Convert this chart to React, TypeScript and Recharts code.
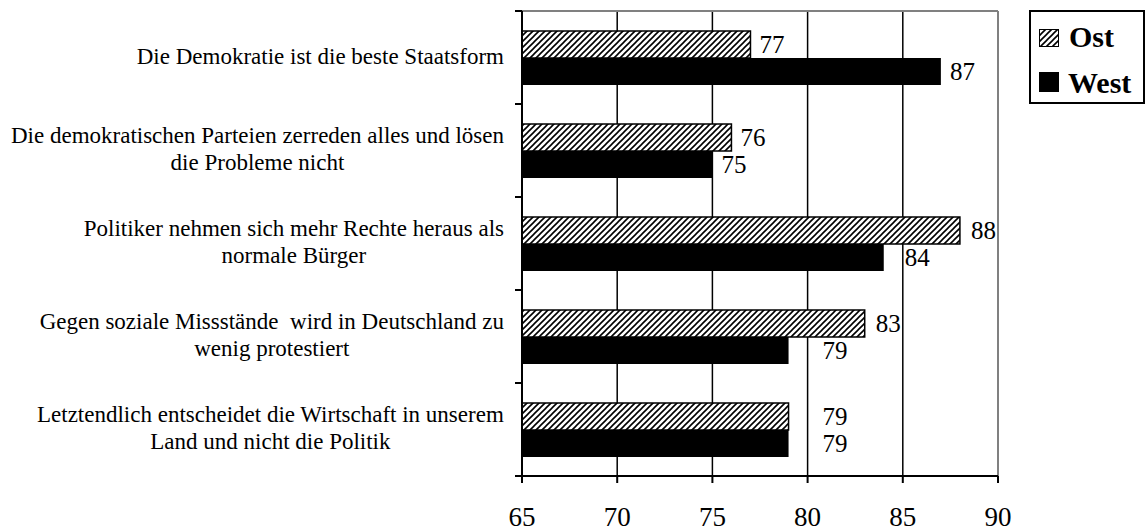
import { BarChart, Bar, XAxis, YAxis, CartesianGrid, Legend, LabelList, ReferenceLine } from 'recharts';

const categories = [
  'Die Demokratie ist die beste Staatsform',
  'Die demokratischen Parteien zerreden alles und lösen\ndie Probleme nicht',
  'Politiker nehmen sich mehr Rechte heraus als\nnormale Bürger',
  'Gegen soziale Missstände  wird in Deutschland zu\nwenig protestiert',
  'Letztendlich entscheidet die Wirtschaft in unserem\nLand und nicht die Politik',
];
const ostValues = [77, 76, 88, 83, 79];
const westValues = [87, 75, 84, 79, 79];
const xTicks = [65, 70, 75, 80, 85, 90];

// manual nudges of the value labels (px), as in the original
const ostLabelShift = [0, 0, 2, 2, 25];
const westLabelShift = [0, 0, 12, 25, 25];

const data = categories.map((label, i) => ({ label, ost: ostValues[i], west: westValues[i] }));

const W = 1145;
const H = 531;
const LEGEND_W = 116;
// the legend takes its width off the right side of the plot
const MARGIN = { top: 11, right: 148 - LEGEND_W - 1, left: 0, bottom: 0 };
const Y_AXIS_W = 522;
const X_AXIS_H = 55;
const BAND = (H - MARGIN.top - MARGIN.bottom - X_AXIS_H) / categories.length;
const FONT = '"Liberation Serif", "Times New Roman", serif';

let ctx: CanvasRenderingContext2D | null = null;
function measure(text: string, size: number) {
  if (!ctx) ctx = document.createElement('canvas').getContext('2d');
  if (!ctx) return text.length * size * 0.45;
  ctx.font = `${size}px "Liberation Serif"`;
  return ctx.measureText(text).width;
}

function CategoryTick(props: any) {
  const { x, y, payload, index } = props;
  const lines: string[] = String(payload.value).split('\n');
  const block = Math.max(...lines.map((l) => measure(l, 23)));
  const cx = x - block / 2;
  const axisX = x + 18;
  return (
    <g>
      {lines.map((l, i) => (
        <text
          key={i}
          x={cx}
          y={y + (i - (lines.length - 1) / 2) * 27 + 6}
          textAnchor="middle"
          fontSize={23}
          fontFamily={FONT}
          fill="#000"
          style={{ whiteSpace: 'pre' }}
        >
          {l}
        </text>
      ))}
      {index === 0 && (
        <line x1={axisX - 7} x2={axisX} y1={y - BAND / 2} y2={y - BAND / 2} stroke="#000" strokeWidth={2} />
      )}
      <line x1={axisX - 7} x2={axisX} y1={y + BAND / 2} y2={y + BAND / 2} stroke="#000" strokeWidth={2} />
    </g>
  );
}

const valueLabel = (shift: number[]) => (props: any) => {
  const { x, y, width, height, value, index } = props;
  return (
    <text
      x={x + width + 9 + (shift[index] ?? 0)}
      y={y + height / 2}
      dominantBaseline="central"
      fontSize={25}
      fontFamily={FONT}
      fill="#000"
    >
      {value}
    </text>
  );
};

function LegendBox() {
  return (
    <svg width={LEGEND_W} height={95} style={{ display: 'block' }}>
      <defs>
        <pattern id="hatchLegend" width={6} height={6} patternUnits="userSpaceOnUse">
          <rect width={6} height={6} fill="#fff" />
          <path d="M0,6 L6,0 M-1,1 L1,-1 M5,7 L7,5" stroke="#000" strokeWidth={1.6} />
        </pattern>
      </defs>
      <rect x={1} y={1} width={114} height={92} fill="#fff" stroke="#000" strokeWidth={2} />
      <rect x={10.5} y={19.5} width={19} height={17} fill="url(#hatchLegend)" stroke="#000" strokeWidth={1} />
      <text x={40} y={37} fontSize={30} fontWeight="bold" fill="#000" fontFamily={FONT}>
        Ost
      </text>
      <rect x={10} y={62} width={20} height={20} fill="#000" />
      <text x={39} y={83} fontSize={30} fontWeight="bold" fill="#000" fontFamily={FONT}>
        West
      </text>
    </svg>
  );
}

export default function App() {
  return (
    <div style={{ position: 'absolute', left: 0, top: 0, width: W, height: H, background: '#fff', fontFamily: FONT }}>
      <BarChart
        width={W}
        height={H}
        data={data}
        layout="vertical"
        margin={MARGIN}
        barGap={0}
        barSize={27}
      >
        <defs>
          <pattern id="hatch" width={6} height={6} patternUnits="userSpaceOnUse">
            <rect width={6} height={6} fill="#fff" />
            <path d="M0,6 L6,0 M-1,1 L1,-1 M5,7 L7,5" stroke="#000" strokeWidth={1.6} />
          </pattern>
        </defs>
        <CartesianGrid horizontal={false} stroke="#000" strokeWidth={1.5} />
        <CartesianGrid
          vertical={false}
          stroke="#808080"
          strokeWidth={2}
          horizontalCoordinatesGenerator={({ offset }: any) => [offset.top]}
        />
        <ReferenceLine x={90} stroke="#808080" strokeWidth={2} />
        <XAxis
          type="number"
          domain={[65, 90]}
          ticks={xTicks}
          interval={0}
          height={X_AXIS_H}
          tickSize={7}
          tickMargin={24}
          axisLine={{ stroke: '#000', strokeWidth: 2 }}
          tickLine={{ stroke: '#000', strokeWidth: 2 }}
          tick={{ fontSize: 27, fill: '#000', fontFamily: FONT }}
        />
        <YAxis
          type="category"
          dataKey="label"
          width={Y_AXIS_W}
          interval={0}
          tickSize={7}
          tickMargin={11}
          tickLine={false}
          axisLine={{ stroke: '#000', strokeWidth: 2 }}
          tick={<CategoryTick />}
        />
        <Legend
          layout="vertical"
          verticalAlign="top"
          align="right"
          width={LEGEND_W}
          wrapperStyle={{ position: 'absolute', top: 10, left: 1029, right: 'auto', width: LEGEND_W, height: 95 }}
          content={() => <LegendBox />}
        />
        <Bar dataKey="ost" name="Ost" fill="url(#hatch)" stroke="#000" strokeWidth={1.5} isAnimationActive={false}>
          <LabelList dataKey="ost" content={valueLabel(ostLabelShift)} />
        </Bar>
        <Bar dataKey="west" name="West" fill="#000" isAnimationActive={false}>
          <LabelList dataKey="west" content={valueLabel(westLabelShift)} />
        </Bar>
      </BarChart>
    </div>
  );
}
